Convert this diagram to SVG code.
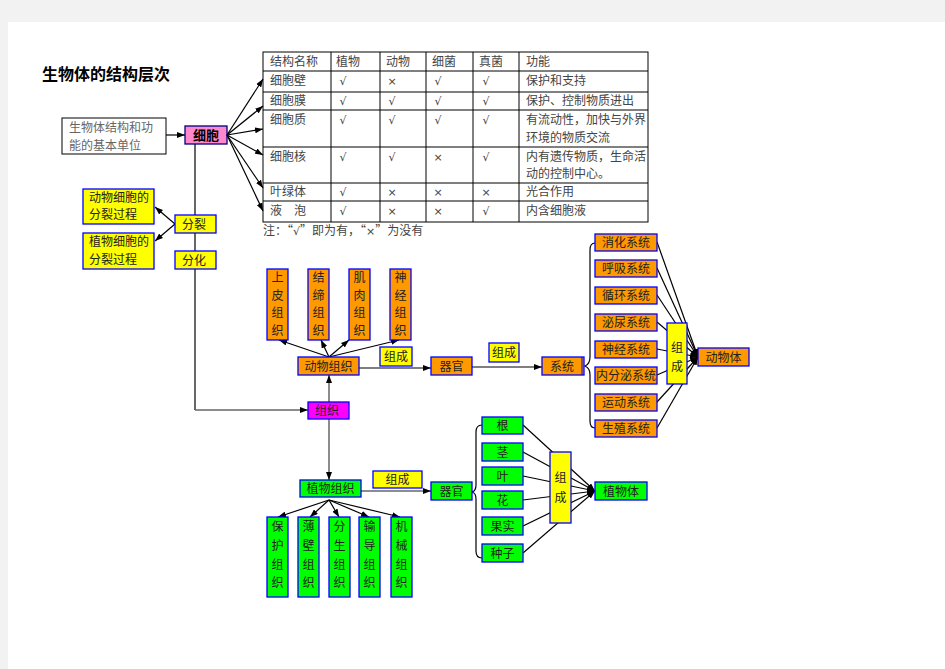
<svg xmlns="http://www.w3.org/2000/svg" width="945" height="669" viewBox="0 0 945 669">
<defs>
<marker id="ah" markerWidth="8" markerHeight="6" refX="8" refY="3" orient="auto" markerUnits="userSpaceOnUse"><path d="M0,0 L8,3 L0,6 z" fill="#000"/></marker>
<style>
text{font-family:"Noto Sans CJK SC","Noto Sans",sans-serif;font-size:12px;fill:#222}
.t{fill:#444}
.m{text-anchor:middle}
.ck{font-family:"DejaVu Sans","Noto Sans CJK SC",sans-serif;font-size:11px}
.bx{stroke:#0000ff;stroke-width:1.3}
.o{fill:#ff9900}.y{fill:#ffff00}.g{fill:#00ff00}.p{fill:#ff00ff}
.ln{fill:none;stroke:#000;stroke-width:1.2}
.gl{fill:none;stroke:#666;stroke-width:1.5}
.tb{fill:none;stroke:#000;stroke-width:1}
</style>
</defs>
<rect width="945" height="669" fill="#f2f2f2"/>
<rect x="8" y="22" width="937" height="647" fill="#fff"/>

<text x="42" y="80" style="font-size:16px;font-weight:bold;fill:#000">生物体的结构层次</text>

<g id="unit">
<rect x="62" y="118" width="104" height="36" fill="#fff" stroke="#000" stroke-width="1"/>
<text x="69" y="132" style="fill:#666">生物体结构和功</text>
<text x="69" y="150" style="fill:#666">能的基本单位</text>
</g>

<g id="cell">
<rect x="185" y="126" width="42" height="18" fill="#ff88cc" stroke="#000080" stroke-width="1.3"/>
<text x="206" y="140" class="m" style="font-weight:bold;font-size:13px;fill:#000">细胞</text>
</g>

<g id="table">
<rect x="263" y="52" width="385" height="170" class="tb"/>
<path class="tb" d="M263,71H648M263,92H648M263,110H648M263,147H648M263,183H648M263,201H648M331,52V222M380,52V222M426,52V222M473,52V222M519,52V222"/>
<g>
<text x="270" y="66" class="t">结构名称</text><text x="336" y="66" class="t">植物</text><text x="386" y="66" class="t">动物</text><text x="432" y="66" class="t">细菌</text><text x="479" y="66" class="t">真菌</text><text x="526" y="66" class="t">功能</text>
<text x="270" y="85" class="t">细胞壁</text><text x="343" y="85" class="t m ck">√</text><text x="392" y="85" class="t m ck">×</text><text x="438" y="85" class="t m ck">√</text><text x="486" y="85" class="t m ck">√</text><text x="526" y="85" class="t">保护和支持</text>
<text x="270" y="105" class="t">细胞膜</text><text x="343" y="105" class="t m ck">√</text><text x="392" y="105" class="t m ck">√</text><text x="438" y="105" class="t m ck">√</text><text x="486" y="105" class="t m ck">√</text><text x="526" y="105" class="t">保护、控制物质进出</text>
<text x="270" y="124" class="t">细胞质</text><text x="343" y="124" class="t m ck">√</text><text x="392" y="124" class="t m ck">√</text><text x="438" y="124" class="t m ck">√</text><text x="486" y="124" class="t m ck">√</text><text x="526" y="124" class="t">有流动性，加快与外界</text><text x="526" y="142" class="t">环境的物质交流</text>
<text x="270" y="161" class="t">细胞核</text><text x="343" y="161" class="t m ck">√</text><text x="392" y="161" class="t m ck">√</text><text x="438" y="161" class="t m ck">×</text><text x="486" y="161" class="t m ck">√</text><text x="526" y="161" class="t">内有遗传物质，生命活</text><text x="526" y="178" class="t">动的控制中心。</text>
<text x="270" y="196" class="t">叶绿体</text><text x="343" y="196" class="t m ck">√</text><text x="392" y="196" class="t m ck">×</text><text x="438" y="196" class="t m ck">×</text><text x="486" y="196" class="t m ck">×</text><text x="526" y="196" class="t">光合作用</text>
<text x="270" y="215" class="t">液　泡</text><text x="343" y="215" class="t m ck">√</text><text x="392" y="215" class="t m ck">×</text><text x="438" y="215" class="t m ck">×</text><text x="486" y="215" class="t m ck">√</text><text x="526" y="215" class="t">内含细胞液</text>
</g>
<text x="263" y="235" class="t">注：“<tspan class="ck">√</tspan>”即为有，“<tspan class="ck">×</tspan>”为没有</text>
</g>

<g id="connectors">
<path class="ln" marker-end="url(#ah)" d="M166,135H185"/>
<path class="ln" marker-end="url(#ah)" d="M227,135L263,79"/>
<path class="ln" marker-end="url(#ah)" d="M227,135L263,106"/>
<path class="ln" marker-end="url(#ah)" d="M227,135L263,129"/>
<path class="ln" marker-end="url(#ah)" d="M227,135L263,155"/>
<path class="ln" marker-end="url(#ah)" d="M227,135L263,188"/>
<path class="ln" marker-end="url(#ah)" d="M227,135L263,211"/>
<path class="ln" d="M195,144V410"/>
<path class="gl" marker-end="url(#ah)" d="M195,410H308"/>
<path class="ln" marker-end="url(#ah)" d="M175,224L155,207"/>
<path class="ln" marker-end="url(#ah)" d="M175,224L155,241"/>
<path class="gl" marker-end="url(#ah)" d="M329,402V375"/>
<path class="gl" marker-end="url(#ah)" d="M329,419V480"/>
<path class="ln" marker-end="url(#ah)" d="M329,357L279,340"/>
<path class="ln" marker-end="url(#ah)" d="M329,357L321,340"/>
<path class="ln" marker-end="url(#ah)" d="M329,357L349,340"/>
<path class="ln" marker-end="url(#ah)" d="M329,357L399,340"/>
<path class="ln" marker-end="url(#ah)" d="M359,368H431"/>
<path class="ln" marker-end="url(#ah)" d="M472,367H542"/>
<path class="ln" d="M595,243Q590,243 590,250V357Q590,364 585,366Q590,368 590,375V421Q590,428 595,428"/>
<path class="ln" marker-end="url(#ah)" d="M657,242L698,357"/>
<path class="ln" marker-end="url(#ah)" d="M657,268L698,357"/>
<path class="ln" marker-end="url(#ah)" d="M657,295L698,357"/>
<path class="ln" marker-end="url(#ah)" d="M657,322L698,357"/>
<path class="ln" marker-end="url(#ah)" d="M657,349L698,357"/>
<path class="ln" marker-end="url(#ah)" d="M657,375L698,357"/>
<path class="ln" marker-end="url(#ah)" d="M657,402L698,357"/>
<path class="ln" marker-end="url(#ah)" d="M657,428L698,357"/>
<path class="ln" marker-end="url(#ah)" d="M329,500L278,517"/>
<path class="ln" marker-end="url(#ah)" d="M329,500L310,517"/>
<path class="ln" marker-end="url(#ah)" d="M329,500L339,517"/>
<path class="ln" marker-end="url(#ah)" d="M329,500L369,517"/>
<path class="ln" marker-end="url(#ah)" d="M329,500L400,517"/>
<path class="gl" marker-end="url(#ah)" d="M361,491H431"/>
<path class="ln" d="M482,425Q476,425 476,432V485Q476,491 472,492Q476,493 476,499V551Q476,558 482,558"/>
<path class="ln" marker-end="url(#ah)" d="M523,425L595,491"/>
<path class="ln" marker-end="url(#ah)" d="M523,452L595,491"/>
<path class="ln" marker-end="url(#ah)" d="M523,476L595,491"/>
<path class="ln" marker-end="url(#ah)" d="M523,500L595,491"/>
<path class="ln" marker-end="url(#ah)" d="M523,526L595,491"/>
<path class="ln" marker-end="url(#ah)" d="M523,553L595,491"/>
</g>

<g id="animal-div"><rect x="83" y="189" width="71" height="35" class="bx y"/><text x="89" y="202">动物细胞的</text><text x="89" y="219">分裂过程</text></g>
<g id="plant-div"><rect x="83" y="233" width="71" height="36" class="bx y"/><text x="89" y="246">植物细胞的</text><text x="89" y="264">分裂过程</text></g>
<g id="division"><rect x="175" y="215" width="41" height="18" class="bx y"/><text x="182" y="229">分裂</text></g>
<g id="differentiation"><rect x="175" y="251" width="41" height="18" class="bx y"/><text x="182" y="265">分化</text></g>

<g id="tissue"><rect x="308" y="402" width="41" height="17" class="bx p"/><text x="315" y="415">组织</text></g>

<g id="animal-tissue"><rect x="298" y="357" width="61" height="18" class="bx o"/><text x="328.5" y="371" class="m">动物组织</text></g>
<g id="epithelial"><rect x="267" y="269" width="21" height="71" class="bx o"/><text x="277.5" y="282" class="m">上</text><text x="277.5" y="300" class="m">皮</text><text x="277.5" y="317" class="m">组</text><text x="277.5" y="335" class="m">织</text></g>
<g id="connective"><rect x="308" y="269" width="21" height="71" class="bx o"/><text x="318.5" y="282" class="m">结</text><text x="318.5" y="300" class="m">缔</text><text x="318.5" y="317" class="m">组</text><text x="318.5" y="335" class="m">织</text></g>
<g id="muscle"><rect x="349" y="269" width="21" height="71" class="bx o"/><text x="359.5" y="282" class="m">肌</text><text x="359.5" y="300" class="m">肉</text><text x="359.5" y="317" class="m">组</text><text x="359.5" y="335" class="m">织</text></g>
<g id="nerve"><rect x="390" y="269" width="21" height="71" class="bx o"/><text x="400.5" y="282" class="m">神</text><text x="400.5" y="300" class="m">经</text><text x="400.5" y="317" class="m">组</text><text x="400.5" y="335" class="m">织</text></g>
<g id="compose-a1"><rect x="380" y="347" width="32" height="19" class="bx y"/><text x="396" y="361" class="m">组成</text></g>
<g id="organ-a"><rect x="431" y="357" width="41" height="18" class="bx o"/><text x="451.5" y="371" class="m">器官</text></g>
<g id="compose-a2"><rect x="489" y="343" width="30" height="19" class="bx y"/><text x="504" y="357" class="m">组成</text></g>
<g id="system"><rect x="542" y="357" width="42" height="18" class="bx o"/><line x1="582" y1="357" x2="582" y2="375" stroke="#0000ff" stroke-width="1"/><text x="562" y="371" class="m">系统</text></g>

<g id="digestive"><rect x="595" y="234" width="62" height="17" class="bx o"/><text x="626" y="247" class="m">消化系统</text></g>
<g id="respiratory"><rect x="595" y="260" width="62" height="17" class="bx o"/><text x="626" y="273" class="m">呼吸系统</text></g>
<g id="circulatory"><rect x="595" y="287" width="62" height="17" class="bx o"/><text x="626" y="300" class="m">循环系统</text></g>
<g id="urinary"><rect x="595" y="314" width="62" height="17" class="bx o"/><text x="626" y="327" class="m">泌尿系统</text></g>
<g id="nervous"><rect x="595" y="341" width="62" height="17" class="bx o"/><text x="626" y="354" class="m">神经系统</text></g>
<g id="endocrine"><rect x="595" y="367" width="62" height="17" class="bx o"/><text x="626" y="380" class="m">内分泌系统</text></g>
<g id="motor"><rect x="595" y="394" width="62" height="17" class="bx o"/><text x="626" y="407" class="m">运动系统</text></g>
<g id="reproductive"><rect x="595" y="420" width="62" height="17" class="bx o"/><text x="626" y="433" class="m">生殖系统</text></g>
<g id="compose-a3"><rect x="667" y="323" width="20" height="61" class="bx y"/><text x="677" y="352" class="m">组</text><text x="677" y="371" class="m">成</text></g>
<g id="animal-body"><rect x="698" y="348" width="51" height="18" class="bx o"/><text x="723.5" y="362" class="m">动物体</text></g>

<g id="plant-tissue"><rect x="300" y="480" width="61" height="17" class="bx g"/><text x="330.5" y="493" class="m">植物组织</text></g>
<g id="protective"><rect x="267" y="517" width="21" height="80" class="bx g"/><text x="277.5" y="531" class="m">保</text><text x="277.5" y="550" class="m">护</text><text x="277.5" y="569" class="m">组</text><text x="277.5" y="587" class="m">织</text></g>
<g id="parenchyma"><rect x="298" y="517" width="21" height="80" class="bx g"/><text x="308.5" y="531" class="m">薄</text><text x="308.5" y="550" class="m">壁</text><text x="308.5" y="569" class="m">组</text><text x="308.5" y="587" class="m">织</text></g>
<g id="meristem"><rect x="329" y="517" width="21" height="80" class="bx g"/><text x="339.5" y="531" class="m">分</text><text x="339.5" y="550" class="m">生</text><text x="339.5" y="569" class="m">组</text><text x="339.5" y="587" class="m">织</text></g>
<g id="conducting"><rect x="359" y="517" width="21" height="80" class="bx g"/><text x="369.5" y="531" class="m">输</text><text x="369.5" y="550" class="m">导</text><text x="369.5" y="569" class="m">组</text><text x="369.5" y="587" class="m">织</text></g>
<g id="mechanical"><rect x="391" y="517" width="21" height="80" class="bx g"/><text x="401.5" y="531" class="m">机</text><text x="401.5" y="550" class="m">械</text><text x="401.5" y="569" class="m">组</text><text x="401.5" y="587" class="m">织</text></g>
<g id="compose-p1"><rect x="373" y="471" width="49" height="17" class="bx y"/><text x="397.5" y="484" class="m">组成</text></g>
<g id="organ-p"><rect x="431" y="482" width="41" height="18" class="bx g"/><text x="451.5" y="496" class="m">器官</text></g>

<g id="root"><rect x="482" y="417" width="41" height="17" class="bx g"/><text x="502.5" y="430" class="m">根</text></g>
<g id="stem"><rect x="482" y="443" width="41" height="18" class="bx g"/><text x="502.5" y="457" class="m">茎</text></g>
<g id="leaf"><rect x="482" y="467" width="41" height="18" class="bx g"/><text x="502.5" y="481" class="m">叶</text></g>
<g id="flower"><rect x="482" y="491" width="41" height="18" class="bx g"/><text x="502.5" y="505" class="m">花</text></g>
<g id="fruit"><rect x="482" y="517" width="41" height="18" class="bx g"/><text x="502.5" y="531" class="m">果实</text></g>
<g id="seed"><rect x="482" y="544" width="41" height="18" class="bx g"/><text x="502.5" y="558" class="m">种子</text></g>
<g id="compose-p2"><rect x="550" y="452" width="21" height="71" class="bx y"/><text x="560.5" y="482" class="m">组</text><text x="560.5" y="502" class="m">成</text></g>
<g id="plant-body"><rect x="595" y="482" width="52" height="18" class="bx g"/><text x="621" y="496" class="m">植物体</text></g>
</svg>
